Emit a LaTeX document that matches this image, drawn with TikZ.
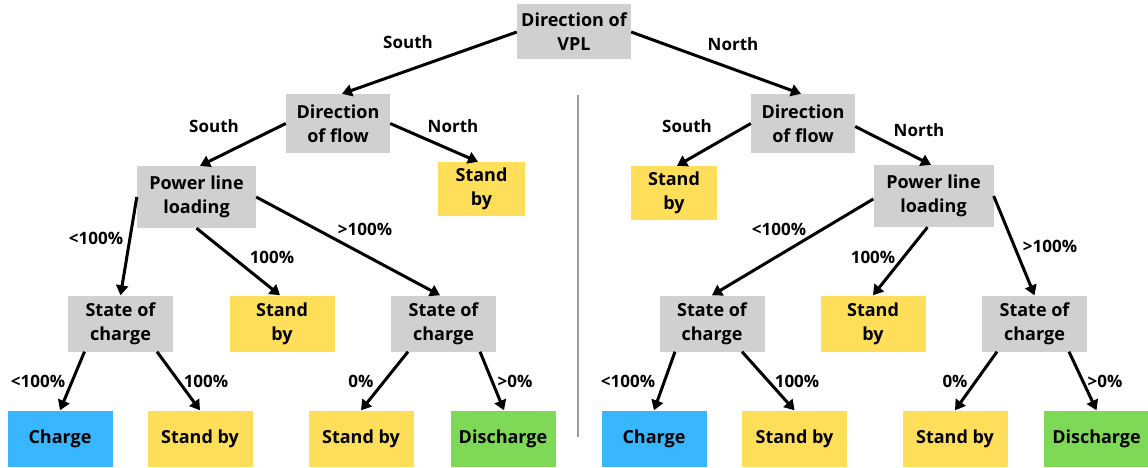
\documentclass[tikz,border=0pt]{standalone}
\usepackage{fontspec}
\IfFontExistsTF{Open Sans ExtraBold}
  {\setmainfont{Open Sans}[BoldFont={Open Sans ExtraBold}]}
  {\setmainfont{Open Sans}}
\usetikzlibrary{arrows.meta}
\definecolor{boxgray}{HTML}{D0D0D0}
\definecolor{boxyellow}{HTML}{FFDE59}
\definecolor{boxblue}{HTML}{38B6FF}
\definecolor{boxgreen}{HTML}{7ED957}
\definecolor{divgray}{HTML}{9A9A9A}
\begin{document}
\begin{tikzpicture}[x=1pt, y=-1pt,
  box/.style={rectangle, inner sep=0pt, align=center,
    font=\fontsize{18}{24}\selectfont\bfseries,
    minimum width=105pt, minimum height=56pt},
  decision/.style={box, fill=boxgray},
  standby/.style={box, fill=boxyellow},
  chargebox/.style={box, fill=boxblue},
  dischargebox/.style={box, fill=boxgreen},
  lbl/.style={inner sep=0pt, font=\fontsize{17}{20}\selectfont\bfseries},
  conn/.style={line width=3pt, -{Triangle[length=10pt,width=12pt]}}]
\useasboundingbox (0,0) rectangle (1148,468);

% root
\node[decision, minimum width=114pt, minimum height=55pt] (root) at (574,32) {Direction of\\VPL};

% ---------- south branch ----------
\node[decision, minimum width=104pt, minimum height=59pt] (dfL) at (338,123.5) {Direction\\of flow};
\node[standby, minimum width=87pt, minimum height=54pt] (sbL) at (481.5,189) {Stand\\by};
\node[decision, minimum width=119pt, minimum height=62pt] (plL) at (196.5,197) {Power line\\loading};
\node[decision] (socLa) at (120.5,323.5) {State of\\charge};
\node[standby] (sbLm) at (282,323.5) {Stand\\by};
\node[decision] (socLb) at (443.5,323.5) {State of\\charge};
\node[chargebox] (chL) at (60,438.5) {Charge};
\node[standby] (sbLa) at (200,438.5) {Stand by};
\node[standby] (sbLb) at (361,438.5) {Stand by};
\node[dischargebox] (diL) at (503,438.5) {Discharge};

% ---------- north branch ----------
\node[decision, minimum width=104pt, minimum height=59pt] (dfR) at (803,123.5) {Direction\\of flow};
\node[standby, minimum width=86pt, minimum height=54pt] (sbR) at (674,193) {Stand\\by};
\node[decision, minimum width=120pt, minimum height=62pt] (plR) at (933.5,196) {Power line\\loading};
\node[decision] (socRa) at (712,323.5) {State of\\charge};
\node[standby] (sbRm) at (873,323.5) {Stand\\by};
\node[decision] (socRb) at (1034.5,323.5) {State of\\charge};
\node[chargebox] (chR) at (654,438.5) {Charge};
\node[standby] (sbRa) at (794.5,438.5) {Stand by};
\node[standby] (sbRb) at (955,438.5) {Stand by};
\node[dischargebox] (diR) at (1096.5,438.5) {Discharge};

% divider between the two halves
\coordinate (divtop) at (578,95);
\coordinate (divbot) at (578,437);
\draw[divgray, line width=1.5pt] (divtop) -- (divbot);

% connectors, south branch
\draw[conn] (root.west) -- ([xshift=4pt]dfL.north);
\draw[conn] (dfL.west) -- ([xshift=3.5pt]plL.north);
\draw[conn] (dfL.east) -- ([xshift=-3.5pt]sbL.north);
\draw[conn] (plL.west) -- (socLa.north);
\draw[conn] (plL.south) -- ([xshift=-2pt]sbLm.north);
\draw[conn] (plL.east) -- ([xshift=-3.5pt]socLb.north);
\draw[conn] ([xshift=-36pt]socLa.south) -- (chL.north);
\draw[conn] ([xshift=36.5pt]socLa.south) -- (sbLa.north);
\draw[conn] ([xshift=-35.5pt]socLb.south) -- (sbLb.north);
\draw[conn] ([xshift=36.5pt]socLb.south) -- ([xshift=1pt]diL.north);

% connectors, north branch
\draw[conn] (root.east) -- ([xshift=-2pt]dfR.north);
\draw[conn] (dfR.west) -- ([xshift=3pt]sbR.north);
\draw[conn] ([yshift=-3pt]dfR.east) -- ([xshift=-2.5pt]plR.north);
\draw[conn] ([yshift=-3pt]plR.west) -- (socRa.north);
\draw[conn] ([xshift=-6pt]plR.south) -- (sbRm.north);
\draw[conn] (plR.east) -- (socRb.north);
\draw[conn] ([xshift=-37pt]socRa.south) -- (chR.north);
\draw[conn] ([xshift=30pt]socRa.south) -- (sbRa.north);
\draw[conn] ([xshift=-37.5pt]socRb.south) -- (sbRb.north);
\draw[conn] ([xshift=34.5pt]socRb.south) -- (diR.north);

% edge labels, south branch
\node[lbl] (lSouthA) at (408,42) {South};
\node[lbl] (lSouthB) at (214,126) {South};
\node[lbl] (lNorthB) at (453,126) {North};
\node[lbl] (lLtA) at (96,238) {<100\%};
\node[lbl] (lEqA) at (272,257) {100\%};
\node[lbl] (lGtA) at (365,229) {>100\%};
\node[lbl] (lLtB) at (38,381) {<100\%};
\node[lbl] (lEqB) at (206,381) {100\%};
\node[lbl] (lZeroA) at (361,381) {0\%};
\node[lbl] (lPosA) at (515,381) {>0\%};

% edge labels, north branch
\node[lbl] (lNorthA) at (733,44) {North};
\node[lbl] (lSouthC) at (687,126) {South};
\node[lbl] (lNorthC) at (919,130) {North};
\node[lbl] (lLtC) at (779,229) {<100\%};
\node[lbl] (lEqC) at (873,257) {100\%};
\node[lbl] (lGtC) at (1050,246) {>100\%};
\node[lbl] (lLtD) at (628,381) {<100\%};
\node[lbl] (lEqD) at (797,381) {100\%};
\node[lbl] (lZeroB) at (955,381) {0\%};
\node[lbl] (lPosB) at (1105,381) {>0\%};
\end{tikzpicture}
\end{document}
